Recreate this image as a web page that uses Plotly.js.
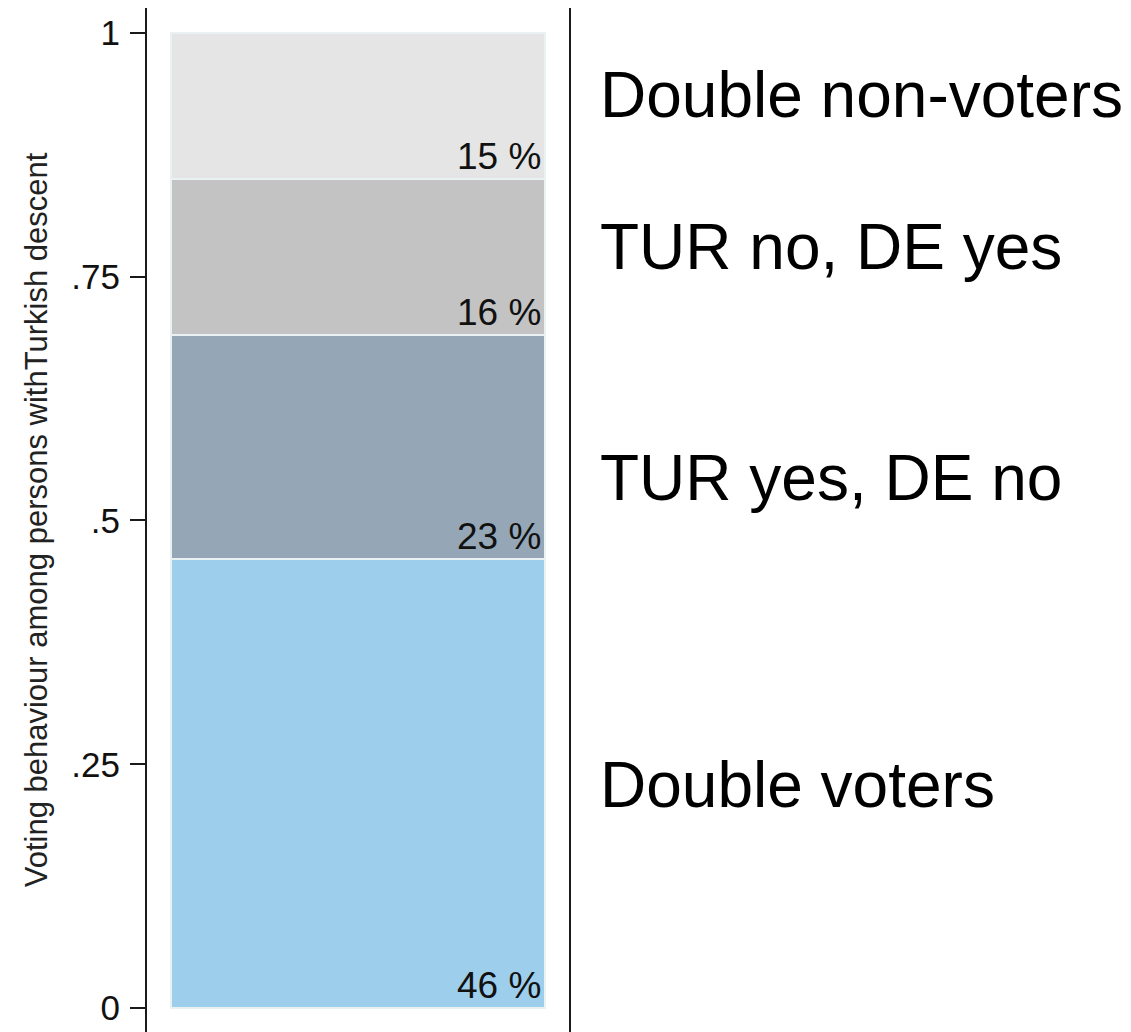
<!DOCTYPE html>
<html>
<head>
<meta charset="utf-8">
<script src="https://cdn.plot.ly/plotly-3.0.1.min.js"></script>
<style>html,body{margin:0;padding:0;background:#fff;}#chart{width:1131px;height:1032px;}</style>
</head>
<body>
<div id="chart"></div>
<script>
// Data (shares, bottom to top)
var categories = ["Double voters", "TUR yes, DE no", "TUR no, DE yes", "Double non-voters"];
var shares = [0.46, 0.23, 0.16, 0.15];
var colors = ["#9dceec", "#95a7b7", "#c3c3c3", "#e5e5e5"];
var tickVals = [0, 0.25, 0.5, 0.75, 1];
var tickText = ["0", ".25", ".5", ".75", "1"];
var yTitle = "Voting behaviour among persons withTurkish descent";

// label vertical positions (data units) for the right-side category labels
var labelY = [0.229, 0.544, 0.780, 0.936];

var FONT = "Liberation Sans, Arial, sans-serif";
var bargap = 0.116;
var halfW = (1 - bargap) / 2;

var traces = categories.map(function (c, i) {
  return {
    type: "bar",
    x: [0],
    y: [shares[i]],
    name: c,
    marker: {color: colors[i], line: {color: "#eaf1f3", width: 2}},
    hoverinfo: "skip",
    showlegend: false
  };
});

var annotations = [];
var base = 0;
shares.forEach(function (v, i) {
  annotations.push({
    x: halfW, y: base, xref: "x", yref: "y",
    text: Math.round(v * 100) + " %",
    showarrow: false, xanchor: "right", yanchor: "bottom",
    xshift: -2, yshift: 0,
    font: {family: FONT, size: 37, color: "#111"}
  });
  base += v;
});
categories.forEach(function (c, i) {
  annotations.push({
    x: 1.068, y: labelY[i], xref: "paper", yref: "y",
    text: c, showarrow: false, xanchor: "left", yanchor: "middle",
    font: {family: FONT, size: 64, color: "#000"}
  });
});

var layout = {
  width: 1131, height: 1032,
  margin: {l: 147, r: 562, t: 8, b: 0, pad: 0},
  paper_bgcolor: "#fff", plot_bgcolor: "#fff",
  barmode: "stack", bargap: bargap,
  showlegend: false,
  xaxis: {visible: false, range: [-0.5, 0.5], type: "linear", fixedrange: true},
  yaxis: {
    range: [-0.0246, 1.0256],
    tickmode: "array", tickvals: tickVals, ticktext: tickText,
    ticks: "outside", ticklen: 15, tickwidth: 2, tickcolor: "#1a1a1a",
    ticklabelstandoff: 3,
    showline: true, linecolor: "#1a1a1a", linewidth: 2, mirror: true,
    showgrid: false, zeroline: false,
    tickfont: {family: FONT, size: 35, color: "#111"},
    title: {text: yTitle, font: {family: FONT, size: 31, color: "#222"}, standoff: 14},
    automargin: false
  },
  annotations: annotations
};

Plotly.newPlot("chart", traces, layout, {displayModeBar: false, staticPlot: true});
</script>
</body>
</html>
